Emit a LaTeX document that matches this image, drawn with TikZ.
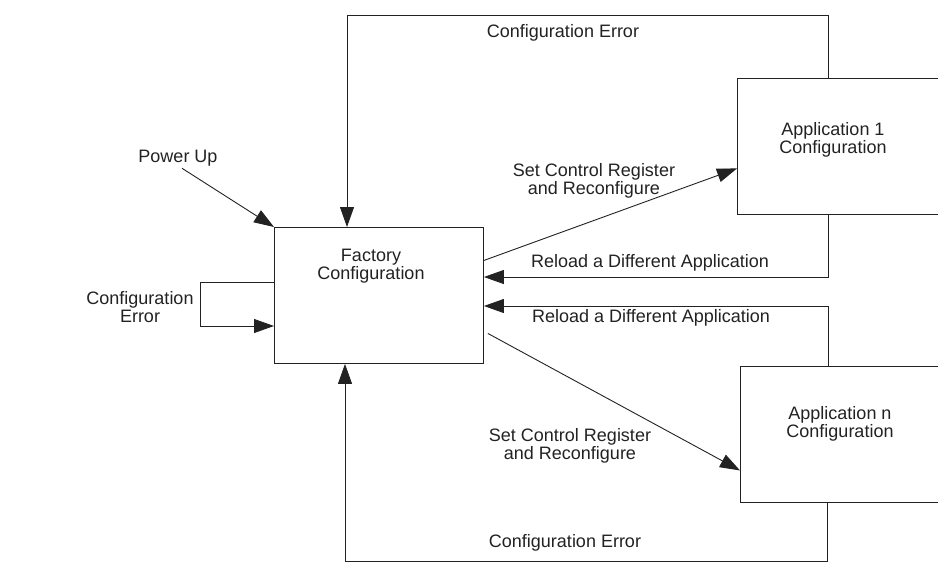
\documentclass[tikz,border=0pt]{standalone}
\usepackage{fontspec}
\setmainfont{Liberation Sans}
\usetikzlibrary{arrows.meta,calc}
\definecolor{ink}{HTML}{222222}
\tikzset{
  box/.style={draw=ink, line width=0.9pt, rectangle, inner sep=0pt, minimum height=136pt, anchor=north west},
  lbl/.style={text=ink, inner sep=0pt, align=center, font=\fontsize{18}{18}\selectfont},
  arr/.style={draw=ink, line width=0.9pt, -{Triangle[length=20pt,width=14pt]}},
  ln/.style={draw=ink, line width=0.9pt}
}
\begin{document}
\begin{tikzpicture}[x=1pt,y=-1pt]
\useasboundingbox (0,0) rectangle (938,573);
\clip (0,0) rectangle (938,573);
% boxes
\node[box, minimum width=209pt] (fac) at (274,227) {};
\node[box, minimum width=240pt] (app1) at (737,78) {};
\node[box, minimum width=240pt] (appn) at (740,366) {};
% box texts
\node[lbl] (factxt) at (371,266) {Factory\\Configuration};
\node[lbl] (app1txt) at (833,140) {Application 1\\Configuration};
\node[lbl] (appntxt) at (840,424) {Application n\\Configuration};
% labels
\node[lbl] (toperr) at (563,33) {Configuration Error};
\node[lbl] (boterr) at (565,543) {Configuration Error};
\node[lbl] (rel1) at (650,263) {Reload a Different Application};
\node[lbl] (rel2) at (651,318) {Reload a Different Application};
\node[lbl] (set1) at (594,181) {Set Control Register\\and Reconfigure};
\node[lbl] (set2) at (570,446) {Set Control Register\\and Reconfigure};
\node[lbl] (pu) at (178,158) {Power Up};
\node[lbl] (lerr) at (140,307) {Configuration\\Error};
% coordinates for bends
\coordinate (tl) at (347,15);
\coordinate (tr) at (828,15);
\coordinate (bl) at (345,561);
\coordinate (br) at (827,561);
\coordinate (r1) at (828,277);
\coordinate (r2) at (828,306);
\coordinate (l1) at (200,282);
\coordinate (l2) at (200,326);
% connectors
\draw[arr] (tr |- app1.north) -- (tr) -- (tl) -- (tl |- fac.north);
\draw[arr] (br |- appn.south) -- (br) -- (bl) -- (bl |- fac.south);
\draw[arr] (r1 |- app1.south) -- (r1) -- (r1 -| fac.east);
\draw[arr] (r2 |- appn.north) -- (r2) -- (r2 -| fac.east);
\draw[arr] ([yshift=35pt]fac.east) -- ([yshift=-22pt]app1.west);
\draw[arr] ([xshift=4pt,yshift=-38pt]fac.east) -- ([yshift=-36pt]appn.west);
\draw[arr] ([xshift=4pt,yshift=-2pt]pu.south) -- (fac.north west);
\draw[arr] (l1 -| fac.west) -- (l1) -- (l2) -- (l2 -| fac.west);
\end{tikzpicture}
\end{document}
